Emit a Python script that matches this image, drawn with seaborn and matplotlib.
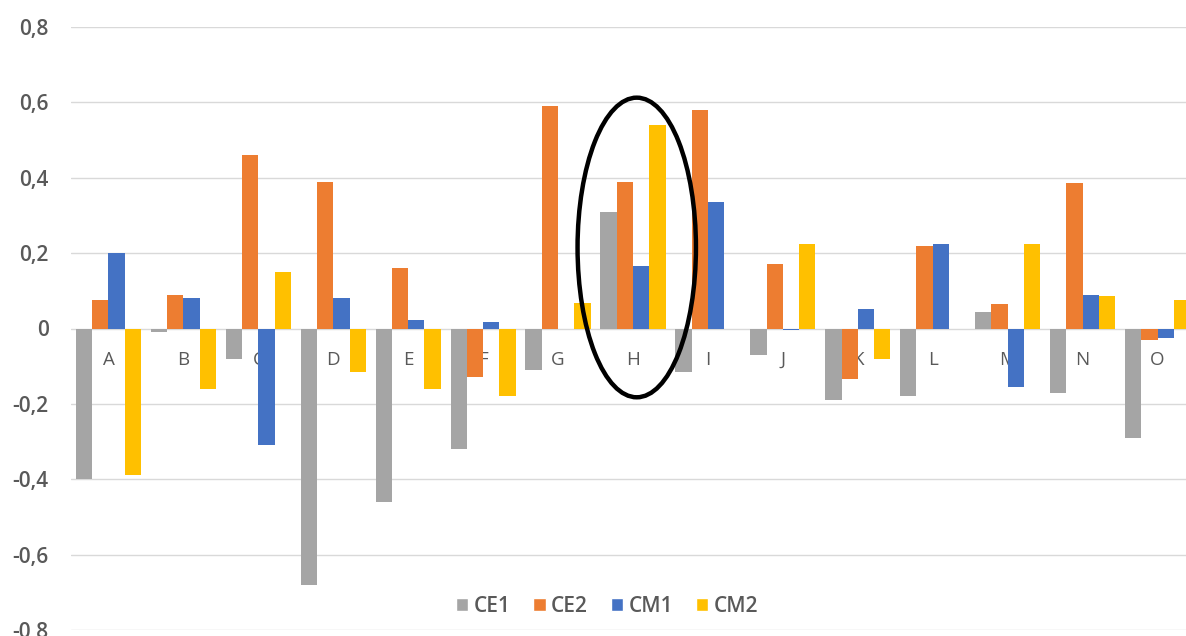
import pandas as pd
import seaborn as sns
import matplotlib.pyplot as plt
from matplotlib.patches import Ellipse, Patch

# dados
categorias = list("ABCDEFGHIJKLMNO")
series = ["CE1", "CE2", "CM1", "CM2"]
ce1 = [-0.40, -0.01, -0.08, -0.68, -0.46, -0.32, -0.11, 0.31, -0.115, -0.07, -0.19, -0.18, 0.045, -0.17, -0.29]
ce2 = [0.075, 0.09, 0.46, 0.39, 0.16, -0.13, 0.59, 0.39, 0.58, 0.17, -0.135, 0.22, 0.065, 0.385, -0.03]
cm1 = [0.20, 0.08, -0.31, 0.08, 0.023, 0.018, 0.0, 0.165, 0.335, -0.005, 0.053, 0.225, -0.155, 0.09, -0.024]
cm2 = [-0.39, -0.16, 0.15, -0.115, -0.16, -0.18, 0.067, 0.54, 0.0, 0.225, -0.08, 0.0, 0.225, 0.086, 0.075]
cores = ["#A5A5A5", "#ED7D31", "#4472C4", "#FFC000"]
y_ticks = [-0.8, -0.6, -0.4, -0.2, 0, 0.2, 0.4, 0.6, 0.8]
y_labels = ["-0,8", "-0,6", "-0,4", "-0,2", "0", "0,2", "0,4", "0,6", "0,8"]

df = pd.DataFrame({
    "cat": categorias * 4,
    "serie": [s for s in series for _ in categorias],
    "valor": ce1 + ce2 + cm1 + cm2,
})

sns.set_theme(style="white")
plt.rcParams["font.family"] = ["Open Sans", "DejaVu Sans"]

fig = plt.figure(figsize=(11.86, 6.36), dpi=100)
ax = fig.add_axes([71 / 1186, 6 / 636, 1124 / 1186, 603 / 636])

sns.barplot(data=df, x="cat", y="valor", hue="serie", palette=cores,
            saturation=1, errorbar=None, width=0.87, linewidth=0,
            legend=False, ax=ax)

ax.set_ylim(-0.8, 0.8)
ax.set_xlim(-0.5, 14.5)
ax.set_yticks(y_ticks)
ax.set_yticklabels(y_labels, fontsize=15, fontweight="semibold", color="#595959")
ax.tick_params(axis="y", length=0, pad=16)
ax.tick_params(axis="x", length=0, pad=16, labelsize=13.5, labelcolor="#595959")
ax.grid(axis="y", color="#D9D9D9", linewidth=1)
ax.set_axisbelow(True)
for s in ax.spines.values():
    s.set_visible(False)
ax.spines["bottom"].set_position(("data", 0))
ax.set_xlabel("")
ax.set_ylabel("")

# elipse destacando H
ax.add_patch(Ellipse((7.05, 0.215), 1.58, 0.795, fill=False,
                     edgecolor="black", linewidth=3.2, zorder=5))

handles = [Patch(facecolor=c, label=s) for c, s in zip(cores, series)]
leg = fig.legend(handles=handles, loc="center", bbox_to_anchor=(607 / 1186, 1 - 606 / 636),
                 ncol=4, frameon=False, fontsize=15, handlelength=0.6, handleheight=0.6,
                 handletextpad=0.25, columnspacing=1.1, labelcolor="#595959")
for t in leg.get_texts():
    t.set_fontweight("semibold")

fig.savefig("out.png", dpi=100)
